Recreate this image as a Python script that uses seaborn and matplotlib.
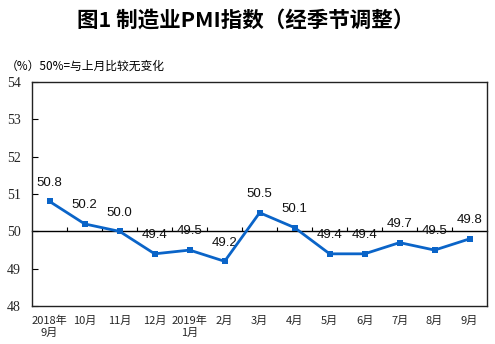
import numpy as np
import pandas as pd
import matplotlib
matplotlib.use("Agg")
import matplotlib.pyplot as plt
import seaborn as sns

months = ["2018年\n9月", "10月", "11月", "12月", "2019年\n1月", "2月", "3月",
          "4月", "5月", "6月", "7月", "8月", "9月"]
pmi = [50.8, 50.2, 50.0, 49.4, 49.5, 49.2, 50.5, 50.1, 49.4, 49.4, 49.7, 49.5, 49.8]
y_ticks = [48, 49, 50, 51, 52, 53, 54]
title = "图1 制造业PMI指数（经季节调整）"
note = "（%）50%=与上月比较无变化"
baseline = 50

sns.set_theme(style="white")
plt.rcParams["font.family"] = ["Noto Sans CJK SC", "DejaVu Sans"]

df = pd.DataFrame({"idx": np.arange(len(months)), "pmi": pmi})

fig = plt.figure(figsize=(4.95, 3.44), dpi=100)
ax = fig.add_axes([0.065, 0.110, 0.919, 0.652])

sns.lineplot(data=df, x="idx", y="pmi", ax=ax, color="#0A64C8", linewidth=2,
             marker="s", markersize=5, markeredgewidth=0, zorder=5)

ax.set_xlim(-0.5, len(months) - 0.5)
ax.set_ylim(y_ticks[0], y_ticks[-1])
ax.set_yticks(y_ticks)
ax.set_yticklabels([str(v) for v in y_ticks], family="Liberation Serif", fontsize=10)
ax.tick_params(axis="y", direction="in", length=4, width=0.8, color="black", pad=8, left=True)
ax.set_xticks(df["idx"])
ax.set_xticklabels(months, fontsize=8, linespacing=1.2)
ax.tick_params(axis="x", length=0, pad=7)
ax.set_xlabel("")
ax.set_ylabel("")
for s in ax.spines.values():
    s.set_color("#222222")
    s.set_linewidth(1.0)

# baseline axis at 50 with category-boundary ticks
loc = (baseline - y_ticks[0]) / (y_ticks[-1] - y_ticks[0])
sec = ax.secondary_xaxis(loc)
sec.set_xticks(np.arange(len(months) - 1) + 0.5)
sec.set_xticklabels([])
sec.tick_params(axis="x", direction="in", length=3, width=0.8, color="black")
sec.spines["bottom"].set_color("black")
sec.spines["bottom"].set_linewidth(1.0)

for i, v in enumerate(pmi):
    ax.annotate(f"{v:.1f}", (i, v), xytext=(0, 13.5), textcoords="offset points",
                ha="center", va="center", fontsize=9.5, family="Liberation Sans",
                color="#111111")

fig.text(0.496, 0.942, title, ha="center", va="center", fontsize=15.5,
         fontweight="bold", color="black")
fig.text(0.012, 0.808, note, ha="left", va="center", fontsize=8.5, color="black")

fig.savefig("out.png", dpi=100)
